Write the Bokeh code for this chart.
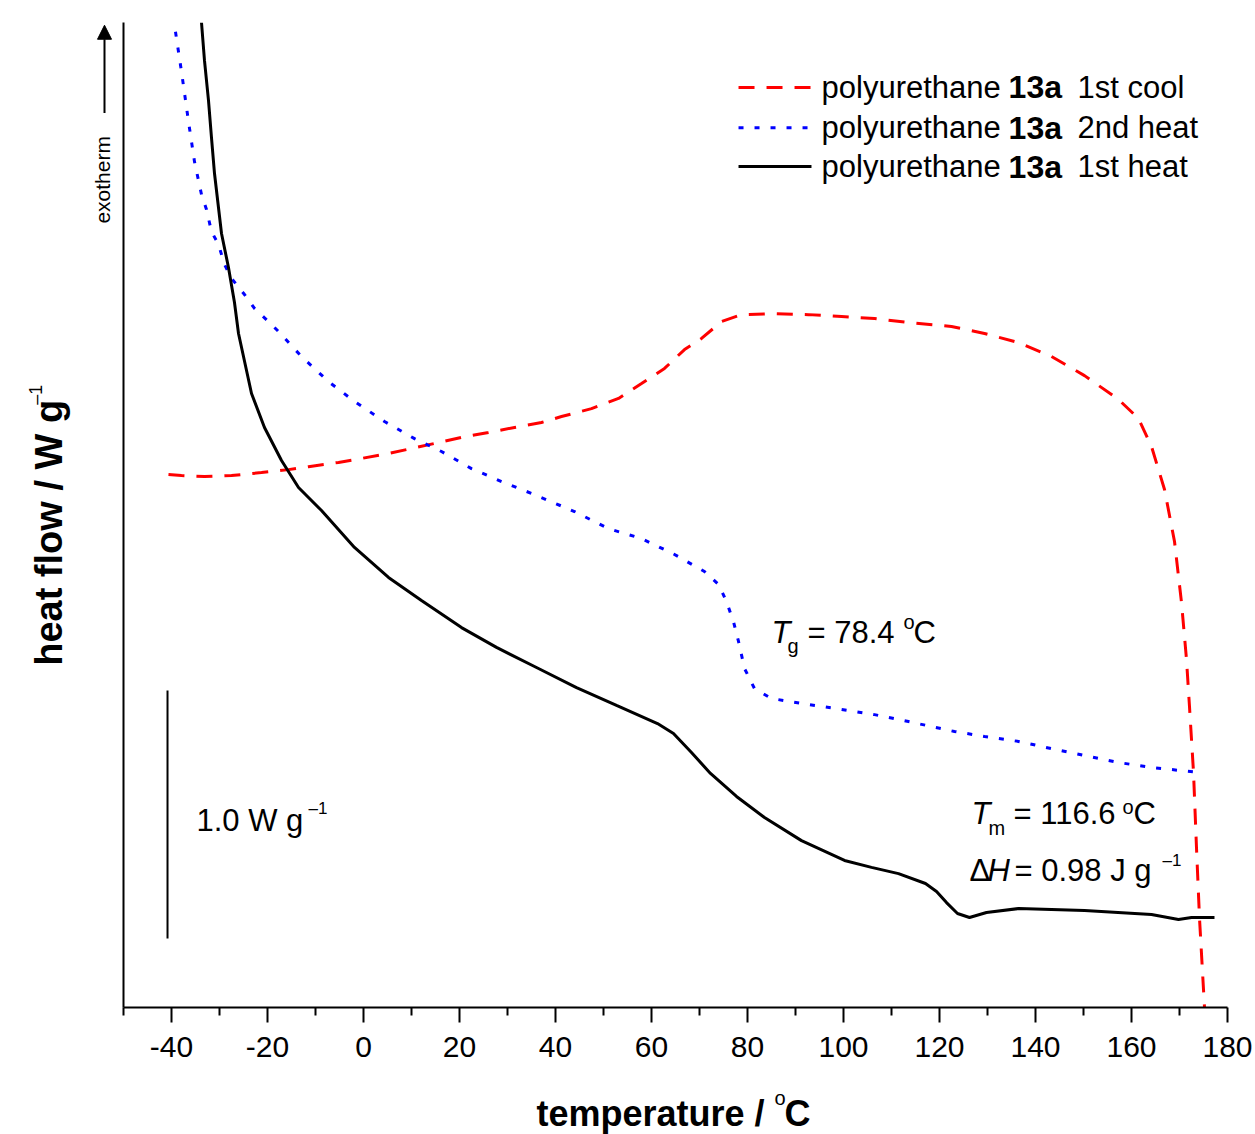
import math
from bokeh.plotting import figure
from bokeh.layouts import row, column
from bokeh.models import Range1d, FixedTicker, Label, Arrow, NormalHead
from bokeh.embed import file_html
from bokeh.resources import INLINE

# ---------------- data (temperature / °C, heat flow / W g^-1, arbitrary offset) -------------
cool1_T = [-40.63, -37.92, -33.13, -27.5, -21.25, -15.63, -11.46, -5.21, -0.42, 5.21, 10.0,
           15.63, 21.04, 26.04, 31.46, 37.08, 41.25, 47.5, 53.13, 57.92, 62.71, 66.88, 70.42,
           74.58, 78.75, 85.63, 92.71, 99.58, 106.46, 113.54, 122.5, 129.38, 136.46, 143.33,
           150.21, 157.29, 161.46, 164.17, 166.88, 168.96, 170.42, 171.46, 172.08, 172.92,
           173.54, 174.17, 175.21]
cool1_Q = [2.149, 2.145, 2.141, 2.145, 2.157, 2.169, 2.181, 2.198, 2.214, 2.234, 2.254,
           2.278, 2.302, 2.319, 2.339, 2.359, 2.383, 2.415, 2.456, 2.516, 2.577, 2.653, 2.698,
           2.766, 2.794, 2.798, 2.794, 2.786, 2.778, 2.762, 2.746, 2.718, 2.681, 2.625,
           2.548, 2.452, 2.375, 2.262, 2.089, 1.879, 1.633, 1.403, 1.214, 0.948,
           0.645, 0.359, 0.0]

heat2_T = [-39.17, -37.92, -36.46, -35.21, -33.75, -32.71, -31.67, -30.21, -28.96, -27.5,
           -24.79, -22.71, -19.79, -17.71, -12.92, -7.29, -1.88, 4.38, 10.63, 16.25, 22.5,
           28.75, 35.0, 43.96, 51.04, 57.92, 64.79, 71.04, 73.96, 75.63, 77.08, 78.13, 79.38,
           81.46, 85.0, 92.71, 99.58, 106.46, 113.54, 123.13, 129.38, 136.46, 143.33, 150.21,
           157.29, 164.17, 173.96]
heat2_Q = [3.935, 3.774, 3.573, 3.411, 3.278, 3.218, 3.129, 3.077, 2.996, 2.940,
           2.875, 2.819, 2.766, 2.726, 2.625, 2.524, 2.444, 2.363, 2.294, 2.242, 2.173,
           2.121, 2.073, 2.000, 1.931, 1.891, 1.827, 1.758, 1.706, 1.637, 1.556, 1.476, 1.367,
           1.286, 1.246, 1.222, 1.202, 1.181, 1.153, 1.113, 1.093, 1.073, 1.044, 1.016,
           0.988, 0.968, 0.948]

heat1_T = [-33.75, -33.13, -32.29, -31.67, -31.04, -29.58, -28.13, -26.88, -26.04, -23.33,
           -20.63, -17.08, -13.54, -8.75, -1.88, 5.21, 12.08, 20.42, 27.71, 36.04, 44.38,
           52.71, 61.25, 64.58, 68.33, 72.29, 77.71, 83.54, 91.25, 100.21, 105.83, 111.46,
           117.08, 119.38, 121.46, 123.75, 126.25, 129.79, 136.46, 150.21, 164.17, 169.79,
           172.5, 177.29]
heat1_Q = [3.972, 3.819, 3.657, 3.508, 3.363, 3.121, 2.984, 2.843, 2.718, 2.476,
           2.339, 2.206, 2.097, 2.004, 1.855, 1.734, 1.641, 1.532, 1.452, 1.371, 1.290,
           1.218, 1.145, 1.105, 1.028, 0.944, 0.851, 0.766, 0.673, 0.593, 0.565, 0.540,
           0.500, 0.468, 0.423, 0.379, 0.363, 0.383, 0.399, 0.391, 0.375, 0.355,
           0.363, 0.363]

x_ticks = [-40, -20, 0, 20, 40, 60, 80, 100, 120, 140, 160, 180]
x_minor = [-50, -30, -10, 10, 30, 50, 70, 90, 110, 130, 150, 170]
series_names = ["1st cool", "2nd heat", "1st heat"]

FONT = "Liberation Sans"


def mk_label(fig, x, y, text, size="31px", style="normal", angle=0.0, align="left"):
    fig.add_layout(Label(x=x, y=y, text=text, text_font=FONT, text_font_size=size,
                         text_font_style=style, text_color="black", angle=angle,
                         text_align=align, text_baseline="middle"))


def blank_fig(w, h):
    f = figure(width=w, height=h, output_backend="svg", toolbar_location=None,
               title_location=None,
               x_range=Range1d(0, w), y_range=Range1d(0, h),
               x_axis_type=None, y_axis_type=None,
               min_border_left=0, min_border_right=0, min_border_top=0, min_border_bottom=0)
    f.outline_line_color = None
    f.grid.visible = False
    f.background_fill_color = "white"
    f.border_fill_color = "white"
    return f


# ---------------- main plot ----------------
p = figure(width=1142, height=1077, output_backend="svg", toolbar_location=None,
           title_location=None,
           x_range=Range1d(-50, 180), y_range=Range1d(0, 3.972),
           min_border_left=10, min_border_right=28, min_border_top=22, min_border_bottom=70)
p.outline_line_color = None
p.grid.visible = False
p.background_fill_color = "white"
p.border_fill_color = "white"

xa = p.xaxis[0]
xa.ticker = FixedTicker(ticks=x_ticks, minor_ticks=x_minor)
xa.major_label_overrides = {v: str(v) for v in x_ticks}
xa.axis_line_width = 2
xa.axis_line_color = "black"
xa.major_tick_in = 0
xa.major_tick_out = 15
xa.minor_tick_in = 0
xa.minor_tick_out = 8
xa.major_tick_line_width = 2
xa.minor_tick_line_width = 2
xa.major_tick_line_color = "black"
xa.minor_tick_line_color = "black"
xa.major_label_text_font = FONT
xa.major_label_text_font_size = "30px"
xa.major_label_text_color = "black"
xa.major_label_standoff = 14

ya = p.yaxis[0]
ya.ticker = FixedTicker(ticks=[])
ya.axis_line_width = 2
ya.axis_line_color = "black"
ya.major_tick_in = 0
ya.major_tick_out = 0
ya.minor_tick_in = 0
ya.minor_tick_out = 0
ya.major_tick_line_color = None
ya.minor_tick_line_color = None
ya.major_label_text_font_size = "0px"

p.line(cool1_T, cool1_Q, line_color="#ff0000", line_width=3, line_dash="16 12")
p.line(heat2_T, heat2_Q, line_color="#0000ff", line_width=3, line_dash="5 11")
p.line(heat1_T, heat1_Q, line_color="black", line_width=3)

# legend (manual: mixed bold text)
leg_y = [3.710, 3.548, 3.391]
styles = [("#ff0000", "16 12"), ("#0000ff", "5 11"), ("black", "solid")]
for (c, d), ly in zip(styles, leg_y):
    p.line([78.13, 93.33], [ly, ly], line_color=c, line_width=3, line_dash=d)
for name, ly in zip(series_names, leg_y):
    mk_label(p, 95.42, ly, "polyurethane")
    mk_label(p, 134.4, ly, "13a", size="32px", style="bold")
    mk_label(p, 148.75, ly, name)

# scale bar 1.0 W/g
p.line([-40.83, -40.83], [0.278, 1.278], line_color="black", line_width=2)
mk_label(p, -34.79, 0.754, "1.0 W g")
mk_label(p, -11.46, 0.802, "\u20131", size="17px")

# Tg annotation
mk_label(p, 85.0, 1.512, "T", style="italic")
mk_label(p, 88.33, 1.456, "g", size="20px")
mk_label(p, 92.5, 1.512, "= 78.4")
mk_label(p, 112.5, 1.556, "o", size="20px")
mk_label(p, 114.58, 1.512, "C")

# Tm annotation
mk_label(p, 126.67, 0.782, "T", style="italic")
mk_label(p, 130.21, 0.722, "m", size="20px")
mk_label(p, 135.42, 0.782, "= 116.6")
mk_label(p, 158.1, 0.810, "o", size="20px")
mk_label(p, 160.4, 0.782, "C")

# dH annotation
mk_label(p, 126.25, 0.552, "\u0394")
mk_label(p, 130.0, 0.552, "H", style="italic")
mk_label(p, 135.63, 0.552, "= 0.98 J g")
mk_label(p, 166.46, 0.593, "\u20131", size="17px")

# ---------------- left strip: y title and exotherm arrow ----------------
left = blank_fig(113, 1077)
mk_label(left, 48, 519, "heat flow / W g", size="38px", style="bold",
         angle=math.pi / 2, align="center")
mk_label(left, 35, 670, "\u20131", size="18px", angle=math.pi / 2, align="center")
mk_label(left, 102, 905, "exotherm", size="21px", angle=math.pi / 2, align="center")
left.add_layout(Arrow(end=NormalHead(size=14, fill_color="black", line_color="black"),
                      x_start=104, y_start=978, x_end=104, y_end=1074,
                      line_width=2, line_color="black"))

# ---------------- bottom strip: x title ----------------
bottom = blank_fig(1255, 57)
mk_label(bottom, 774, 21, "temperature / ", size="36px", style="bold", align="right")
mk_label(bottom, 774, 37, "o", size="20px")
mk_label(bottom, 784, 21, "C", size="36px", style="bold")

layout = column(row(left, p), bottom)
open("out.html", "w").write(file_html(layout, INLINE))
